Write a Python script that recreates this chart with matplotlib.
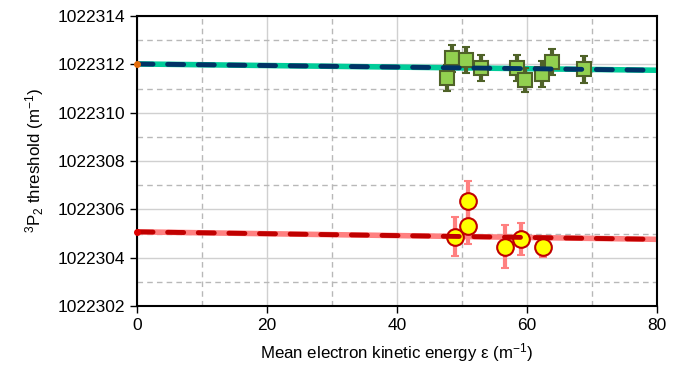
import numpy as np
import matplotlib.pyplot as plt
from matplotlib.ticker import MultipleLocator

plt.rcParams['font.family'] = ['Liberation Sans', 'DejaVu Sans']
plt.rcParams['mathtext.default'] = 'regular'

# green series (upper threshold)
green_x = [47.7, 48.5, 50.6, 52.9, 58.5, 59.7, 62.3, 63.8, 68.8]
green_y = [1022311.44, 1022312.25, 1022312.19, 1022311.86, 1022311.86,
           1022311.36, 1022311.60, 1022312.10, 1022311.80]
green_err = [0.55, 0.55, 0.55, 0.55, 0.55, 0.5, 0.55, 0.55, 0.55]
green_fit_x = [0, 80]
green_fit_y = [1022312.02, 1022311.76]

# red series (lower threshold)
red_x = [48.9, 50.9, 50.9, 56.6, 59.1, 62.5]
red_y = [1022304.87, 1022305.30, 1022306.34, 1022304.46, 1022304.77, 1022304.46]
red_err = [0.8, 0.75, 0.85, 0.9, 0.65, 0.45]
red_fit_x = [0, 80]
red_fit_y = [1022305.07, 1022304.76]

fig = plt.figure(figsize=(6.84, 3.75), dpi=100)
ax = fig.add_axes([0.2003, 0.184, 0.7602, 0.773])

# fit lines
ax.plot(green_fit_x, green_fit_y, color='#00cc99', lw=4, zorder=2)
ax.plot(green_fit_x, green_fit_y, color='#003366', lw=3.5, ls=(0, (3.3, 3.0)),
        dash_capstyle='round', zorder=6)
ax.plot(red_fit_x, red_fit_y, color='#ff8080', lw=4, zorder=2)
ax.plot(red_fit_x, red_fit_y, color='#c00000', lw=3.5, ls=(0, (3.3, 3.0)),
        dash_capstyle='round', zorder=6)

# intercept markers on the axis
ax.plot([0], [green_fit_y[0]], 'o', color='#e46c0a', ms=4, zorder=7, clip_on=False)
ax.plot([0], [red_fit_y[0]], 'o', color='#e00000', ms=4, zorder=7, clip_on=False)

# data points
ax.errorbar(green_x, green_y, yerr=green_err, fmt='s', ms=10,
            mfc='#92d050', mec='#4f6228', mew=1.5, ecolor='#4f6228',
            elinewidth=3, capsize=3, capthick=4, zorder=4)
ax.errorbar(red_x, red_y, yerr=red_err, fmt='o', ms=12,
            mfc='#ffff00', mec='#c00000', mew=1.5, ecolor='#ff8080',
            elinewidth=3, capsize=3, capthick=4, zorder=4)

ax.set_xlim(0, 80)
ax.set_ylim(1022302, 1022314)
ax.xaxis.set_major_locator(MultipleLocator(20))
ax.xaxis.set_minor_locator(MultipleLocator(10))
ax.yaxis.set_major_locator(MultipleLocator(2))
ax.yaxis.set_minor_locator(MultipleLocator(1))
ax.ticklabel_format(axis='y', useOffset=False, style='plain')

ax.grid(which='major', color='#d0d0d0', lw=1, ls='-', zorder=0)
ax.grid(which='minor', color='#b8b8b8', lw=1, ls=(0, (4, 3)), zorder=0)
ax.set_axisbelow(True)

ax.tick_params(which='major', direction='out', length=5, width=1, labelsize=12.5)
ax.tick_params(which='minor', length=0)
for s in ax.spines.values():
    s.set_linewidth(1.5)

ax.set_xlabel('Mean electron kinetic energy ε (m$^{-1}$)', fontsize=12.2, labelpad=6)
ax.set_ylabel('$^3$P$_2$ threshold (m$^{-1}$)', fontsize=12.2, labelpad=8)

fig.savefig('out.png', dpi=100)
